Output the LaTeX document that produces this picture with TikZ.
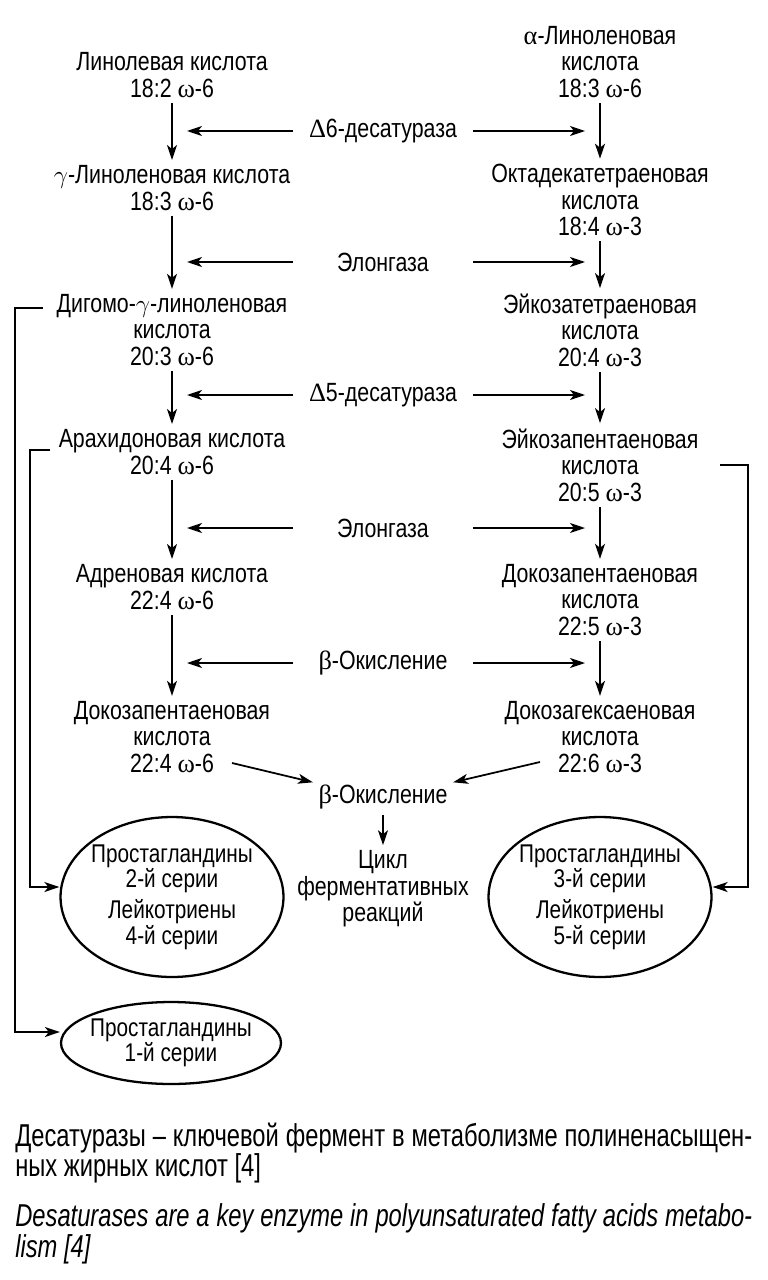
\documentclass[tikz,border=0pt]{standalone}
\usepackage{fontspec}
\setmainfont[FakeStretch=0.81]{Liberation Sans}
\newfontfamily\grkfont{Liberation Serif}
\newfontfamily\legfont[FakeStretch=0.75]{Liberation Sans}
\newcommand{\gk}[1]{{\grkfont #1}}
\usetikzlibrary{arrows.meta,shapes.geometric}

\begin{document}
\begin{tikzpicture}  % ------ Метаболизм ПНЖК : омега-6 / омега-3 -------------------
      [x={(0.02cm,0cm)},y={(0cm,-0.02cm)},
       txt/.style={align=center, inner sep=3pt, font=\fontsize{15}{15}\selectfont},
       fl/.style={-{Stealth[length=0.3cm,width=0.2cm,inset=0.08cm]}, line width=1pt},
       hz/.style={fl, shorten <=1.8cm, shorten >=0.3cm},
       serie/.style={txt, ellipse, draw, line width=1.3pt, inner xsep=-0.3cm, inner ysep=0pt,
                     font=\fontsize{14.6}{14.5}\selectfont},
       legende/.style={anchor=base west, inner sep=0pt, font=\legfont\fontsize{18}{20}\selectfont}]

    \useasboundingbox (0,0) rectangle (767,1280);

    % omega-6
    \node[txt] (L1) at (172,75)  {Линолевая кислота\\18:2 \gk{ω}-6};
    \node[txt] (L2) at (172,188) {$\gamma$-Линоленовая кислота\\18:3 \gk{ω}-6};
    \node[txt] (L3) at (172,330) {Дигомо-$\gamma$-линоленовая\\кислота\\20:3 \gk{ω}-6};
    \node[txt] (L4) at (172,452) {Арахидоновая кислота\\20:4 \gk{ω}-6};
    \node[txt] (L5) at (172,587) {Адреновая кислота\\22:4 \gk{ω}-6};
    \node[txt] (L6) at (172,737) {Докозапентаеновая\\кислота\\22:4 \gk{ω}-6};

    % omega-3
    \node[txt] (R1) at (600,62)  {\gk{α}-Линоленовая\\кислота\\18:3 \gk{ω}-6};
    \node[txt] (R2) at (600,200) {Октадекатетраеновая\\кислота\\18:4 \gk{ω}-3};
    \node[txt] (R3) at (600,330) {Эйкозатетраеновая\\кислота\\20:4 \gk{ω}-3};
    \node[txt] (R4) at (600,465) {Эйкозапентаеновая\\кислота\\20:5 \gk{ω}-3};
    \node[txt] (R5) at (600,600) {Докозапентаеновая\\кислота\\22:5 \gk{ω}-3};
    \node[txt] (R6) at (600,737) {Докозагексаеновая\\кислота\\22:6 \gk{ω}-3};

    % enzymes
    \node[txt] (d6)  at (383,131) {\gk{Δ}6-десатураза};
    \node[txt] (el1) at (383,262) {Элонгаза};
    \node[txt] (d5)  at (383,395) {\gk{Δ}5-десатураза};
    \node[txt] (el2) at (383,528) {Элонгаза};
    \node[txt] (bo1) at (383,663) {\gk{β}-Окисление};
    \node[txt] (bo2) at (383,797) {\gk{β}-Окисление};
    \node[txt] (cyc) at (383,889) {Цикл\\ферментативных\\реакций};

    % eicosanoides
    \node[serie, minimum width=4.46cm, minimum height=3.2cm] (P2) at (172,897)
        {Простагландины\\2-й серии\\[0.11cm]Лейкотриены\\4-й серии};
    \node[serie, minimum width=4.46cm, minimum height=3.2cm] (P3) at (600,897)
        {Простагландины\\3-й серии\\[0.11cm]Лейкотриены\\5-й серии};
    \node[serie, minimum width=4.4cm, minimum height=1.64cm] (P1) at (171,1043)
        {Простагландины\\1-й серии};

    % fleches verticales
    \draw[fl] (L1) -- (L2); \draw[fl] (L2) -- (L3); \draw[fl] (L3) -- (L4);
    \draw[fl] (L4) -- (L5); \draw[fl] (L5) -- (L6);
    \draw[fl] (R1) -- (R2); \draw[fl] (R2) -- (R3); \draw[fl] (R3) -- (R4);
    \draw[fl] (R4) -- (R5); \draw[fl] (R5) -- (R6);

    % fleches horizontales
    \draw[hz] (d6.center) -- (L1 |- d6);   \draw[hz] (d6.center) -- (R1 |- d6);
    \draw[hz] (el1.center) -- (L1 |- el1); \draw[hz] (el1.center) -- (R1 |- el1);
    \draw[hz] (d5.center) -- (L1 |- d5);   \draw[hz] (d5.center) -- (R1 |- d5);
    \draw[hz] (el2.center) -- (L1 |- el2); \draw[hz] (el2.center) -- (R1 |- el2);
    \draw[hz] (bo1.center) -- (L1 |- bo1); \draw[hz] (bo1.center) -- (R1 |- bo1);

    % vers la beta-oxydation
    \coordinate (dL) at (232,763);
    \coordinate (dR) at (540,762);
    \draw[fl] (dL) -- ([yshift=-0.06cm]bo2.north west);
    \draw[fl] (dR) -- ([yshift=-0.06cm]bo2.north east);
    \draw[fl] (bo2) -- (cyc);

    % retours
    \coordinate (k3) at (43,308);
    \coordinate (k4) at (50,450);
    \coordinate (k5) at (720,465);
    \draw[fl] (k3) -- (15,308) |- ([yshift=0.22cm]P1.west);
    \draw[fl] (k4) -- (30,450) |- ([yshift=0.2cm]P2.west);
    \draw[fl] (k5) -- (748,465) |- ([yshift=0.2cm]P3.east);

    % legende
    \node[legende] (c1) at (15,1146)
        {\makebox[14.74cm][s]{Десатуразы – ключевой фермент в метаболизме полиненасыщен-}};
    \node[legende] (c2) at (15,1176) {ных жирных кислот [4]};
    \node[legende] (c3) at (15,1226)
        {\itshape\makebox[14.74cm][s]{Desaturases are a key enzyme in polyunsaturated fatty acids metabo-}};
    \node[legende] (c4) at (15,1257) {\itshape lism [4]};
\end{tikzpicture}
\end{document}
